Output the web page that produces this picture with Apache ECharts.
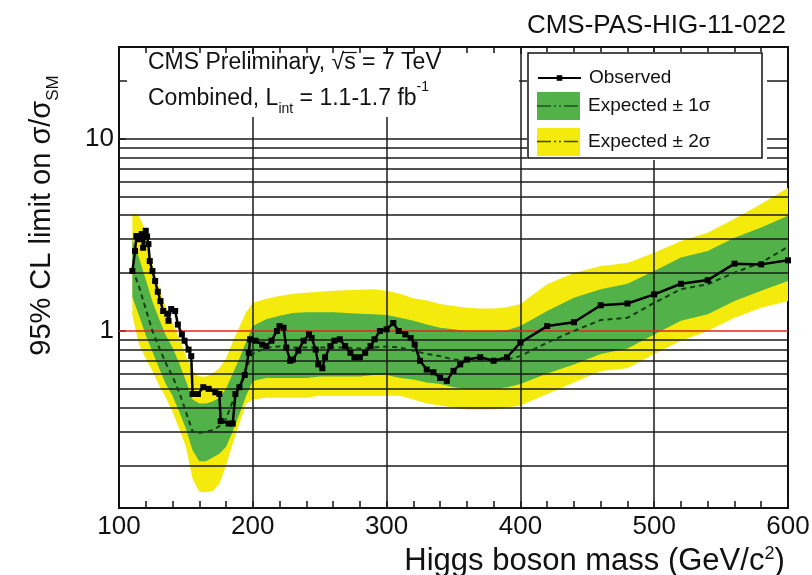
<!DOCTYPE html>
<html><head><meta charset="utf-8">
<script src="https://cdn.jsdelivr.net/npm/echarts@6/dist/echarts.min.js"></script>
<style>html,body{margin:0;padding:0;background:#fff}#c{width:812px;height:575px}</style>
</head><body><div id="c"></div>
<script>
// ---- data ----
const obsMass = [110,112,113,115,117,118,120,121,122,123,125,127,129,131,133,136,137,139,142,144,147,149,152,154,155,159,163,167,172,175,176,182,185,187,190,194,197,198,202,207,210,214,218,220,223,225,228,230,234,238,242,244,247,249,252,254,258,261,265,269,273,276,280,284,288,291,295,300,305,309,314,318,321,325,330,335,340,345,350,355,360,370,380,390,400,420,440,460,480,500,520,540,560,580,600];
const obsLimit = [2.05,2.61,3.12,3.0,3.19,2.71,3.32,3.1,2.83,2.31,2.05,1.82,1.6,1.43,1.27,1.23,1.13,1.30,1.27,1.08,0.96,0.89,0.80,0.74,0.47,0.47,0.51,0.50,0.48,0.47,0.34,0.33,0.33,0.47,0.51,0.59,0.77,0.905,0.89,0.85,0.835,0.89,1.0,1.06,1.04,0.82,0.70,0.71,0.79,0.89,0.96,0.92,0.80,0.67,0.64,0.73,0.835,0.89,0.905,0.835,0.77,0.73,0.73,0.77,0.835,0.905,1.0,1.02,1.10,1.0,0.96,0.92,0.85,0.70,0.63,0.61,0.57,0.55,0.62,0.67,0.71,0.73,0.70,0.73,0.87,1.06,1.11,1.36,1.39,1.55,1.76,1.84,2.24,2.22,2.33];

const bandMass = [110,115,120,125,130,135,140,145,150,155,160,165,170,175,180,185,190,195,200,210,220,230,240,250,260,270,280,290,300,310,320,330,340,350,360,370,380,390,400,420,440,460,480,500,520,540,560,580,600];
const expMedian = [2.1,1.7,1.3,1.0,0.82,0.68,0.58,0.48,0.38,0.30,0.295,0.30,0.305,0.32,0.35,0.43,0.51,0.64,0.76,
  0.82,0.83,0.82,0.82,0.82,0.82,0.82,0.81,0.82,0.83,0.82,0.79,0.76,0.74,0.71,0.70,0.70,0.70,0.71,0.74,
  0.87,1.0,1.14,1.17,1.40,1.65,1.75,2.01,2.27,2.74];
const exp1Lo = [1.5,1.2,0.95,0.78,0.64,0.53,0.46,0.38,0.31,0.24,0.21,0.21,0.22,0.23,0.25,0.30,0.37,0.46,0.55,
  0.57,0.57,0.57,0.57,0.58,0.58,0.58,0.58,0.59,0.59,0.57,0.56,0.54,0.53,0.51,0.50,0.50,0.50,0.51,0.53,
  0.60,0.67,0.76,0.81,0.96,1.13,1.22,1.43,1.62,1.82];
const exp1Hi = [3.0,2.4,1.85,1.42,1.15,0.95,0.82,0.68,0.55,0.44,0.42,0.42,0.43,0.45,0.50,0.60,0.72,0.88,1.06,
  1.15,1.20,1.24,1.25,1.25,1.25,1.24,1.23,1.22,1.21,1.17,1.13,1.08,1.04,1.02,1.00,1.00,1.00,1.01,1.06,
  1.27,1.49,1.65,1.76,2.05,2.41,2.61,3.05,3.45,3.97];
const exp2Lo = [1.2,0.85,0.72,0.62,0.52,0.45,0.38,0.31,0.25,0.17,0.146,0.145,0.147,0.16,0.20,0.26,0.33,0.42,0.44,
  0.45,0.45,0.45,0.45,0.46,0.46,0.46,0.46,0.46,0.46,0.46,0.44,0.42,0.41,0.40,0.39,0.39,0.39,0.40,0.41,
  0.47,0.54,0.62,0.64,0.76,0.89,1.0,1.17,1.32,1.43];
const exp2Hi = [4.1,3.95,3.3,2.2,1.68,1.33,1.10,0.92,0.74,0.62,0.58,0.58,0.60,0.64,0.72,0.88,1.05,1.25,1.40,
  1.47,1.52,1.56,1.58,1.60,1.62,1.63,1.64,1.65,1.62,1.56,1.48,1.44,1.38,1.35,1.32,1.31,1.31,1.33,1.38,
  1.75,2.0,2.18,2.26,2.55,2.94,3.24,3.83,4.58,5.56];

const xRange = [100, 600];
const yRange = [0.12, 30];
const xGridValues = [200, 300, 400, 500];
const yGridValues = [0.2,0.3,0.4,0.5,0.6,0.7,0.8,0.9,2,3,4,5,6,7,8,9,10,20];
const smLine = 1;

const titleText = 'CMS-PAS-HIG-11-022';
const infoLine1 = 'CMS Preliminary, √s = 7 TeV';
const infoLine2 = 'Combined, L{sub|int} = 1.1-1.7 fb{sup|-1}';
const legendNames = ['Observed', 'Expected ± 1σ', 'Expected ± 2σ'];

// ---- chart ----
const FONT = '"Liberation Sans", Arial, Helvetica, sans-serif';
const chart = echarts.init(document.getElementById('c'), null, {renderer: 'canvas'});

function bandSeries(name, lo, hi, color, z) {
  return {
    name: name, type: 'custom', z: z, silent: true,
    xAxisIndex: 0, yAxisIndex: 0,
    itemStyle: {color: color},
    data: bandMass.map((m, i) => [m, lo[i], hi[i]]),
    encode: {x: 0, y: [1, 2]},
    renderItem: function (params, api) {
      if (params.dataIndex !== 0) return null;
      const pts = [];
      for (let i = 0; i < bandMass.length; i++) pts.push(api.coord([bandMass[i], hi[i]]));
      for (let i = bandMass.length - 1; i >= 0; i--) pts.push(api.coord([bandMass[i], lo[i]]));
      return {type: 'polygon', shape: {points: pts}, style: {fill: color, stroke: null}};
    }
  };
}

function isDecade(v) {
  const l = Math.log10(v);
  return Math.abs(l - Math.round(l)) < 1e-6;
}

// overline position for sqrt(s)
const mctx = document.createElement('canvas').getContext('2d');
mctx.font = '23px ' + FONT;
const preW = mctx.measureText('CMS Preliminary, √').width;
const sW = mctx.measureText('s').width;
const infoX = 148;

const option = {
  animation: false,
  backgroundColor: '#ffffff',
  title: {
    text: titleText, right: 21, top: 8,
    textStyle: {fontFamily: FONT, fontSize: 26, fontWeight: 'normal', color: '#111'}
  },
  grid: {left: 119, top: 47, width: 669, height: 461, containLabel: false, outerBoundsMode: 'none'},
  legend: [
    {
      data: [legendNames[0]], left: 537, top: 68.5, padding: 0, z: 10,
      itemWidth: 43, itemHeight: 7, selectedMode: false,
      textStyle: {fontFamily: FONT, fontSize: 19, color: '#111', padding: [0, 0, 0, 3]}
    },
    {
      data: [legendNames[1], legendNames[2]], orient: 'vertical', left: 537, top: 92, padding: 0, z: 10,
      itemWidth: 43, itemHeight: 28, itemGap: 8, icon: 'rect', selectedMode: false,
      textStyle: {fontFamily: FONT, fontSize: 19, color: '#111', padding: [0, 0, 0, 3]}
    }
  ],
  xAxis: [
    {
      type: 'value', position: 'bottom', min: xRange[0], max: xRange[1], interval: 100,
      name: 'Higgs boson mass (GeV/c{sup|2})', nameLocation: 'middle', nameGap: 27,
      nameTextStyle: {fontFamily: FONT, fontSize: 31, color: '#111', padding: [0, 0, 0, 282],
        rich: {sup: {fontFamily: FONT, fontSize: 18, color: '#111', verticalAlign: 'top', lineHeight: 34}}},
      axisLine: {show: true, onZero: false, lineStyle: {color: '#111', width: 2}},
      axisTick: {show: true, inside: true, length: 7, lineStyle: {color: '#111', width: 1.5}},
      minorTick: {show: true, splitNumber: 5, length: 7, lineStyle: {color: '#111', width: 1.5}},
      axisLabel: {fontFamily: FONT, fontSize: 26, color: '#111', margin: 6},
      splitLine: {show: false}
    },
    {
      type: 'value', position: 'top', min: xRange[0], max: xRange[1], interval: 100,
      axisLine: {show: true, onZero: false, lineStyle: {color: '#111', width: 2}},
      axisTick: {show: true, inside: true, length: 7, lineStyle: {color: '#111', width: 1.5}},
      minorTick: {show: true, splitNumber: 5, length: 6, lineStyle: {color: '#111', width: 1.5}},
      axisLabel: {show: false}, splitLine: {show: false}
    }
  ],
  yAxis: [
    {
      type: 'log', logBase: 10, position: 'left', min: yRange[0], max: yRange[1],
      name: '95% CL limit on σ/σ{sub|SM}', nameLocation: 'middle', nameRotate: 90, nameGap: 57,
      nameTextStyle: {fontFamily: FONT, fontSize: 29, color: '#111', padding: [0, 0, 0, 124],
        rich: {sub: {fontFamily: FONT, fontSize: 17, color: '#111', verticalAlign: 'bottom', lineHeight: 40}}},
      axisLine: {show: true, onZero: false, lineStyle: {color: '#111', width: 2}},
      axisTick: {show: true, inside: true, length: 7, lineStyle: {color: '#111', width: 1.5}},
      axisLabel: {fontFamily: FONT, fontSize: 26, color: '#111', margin: 5,
        formatter: v => (isDecade(v) && v >= 1 && v <= 10) ? String(Math.round(v)) : ''},
      splitLine: {show: false}
    },
    {
      type: 'log', logBase: 10, position: 'right', min: yRange[0], max: yRange[1],
      axisLine: {show: true, onZero: false, lineStyle: {color: '#111', width: 2}},
      axisTick: {show: false}, axisLabel: {show: false}, splitLine: {show: false}
    }
  ],
  series: [
    bandSeries(legendNames[2], exp2Lo, exp2Hi, '#f4ea0c', 1),
    bandSeries(legendNames[1], exp1Lo, exp1Hi, '#52b148', 2),
    {
      name: 'Expected', type: 'line', z: 6, xAxisIndex: 0, yAxisIndex: 0,
      data: bandMass.map((m, i) => [m, expMedian[i]]),
      showSymbol: false, symbol: 'none', silent: true,
      lineStyle: {color: '#173d17', width: 2, type: [5, 4]},
      markLine: {
        silent: true, symbol: ['none', 'none'], label: {show: false}, animation: false,
        lineStyle: {color: '#1a1a1a', width: 1.5, type: 'solid'},
        emphasis: {disabled: true},
        data: [
          ...yGridValues.map(v => ({yAxis: v})),
          ...xGridValues.map(v => ({xAxis: v})),
          {yAxis: smLine, lineStyle: {color: '#e3261f', width: 1.5, type: 'solid'}}
        ]
      }
    },
    {
      name: legendNames[0], type: 'line', z: 7, xAxisIndex: 0, yAxisIndex: 0,
      data: obsMass.map((m, i) => [m, obsLimit[i]]),
      symbol: 'rect', symbolSize: 6, showSymbol: true, silent: true,
      itemStyle: {color: '#000'},
      lineStyle: {color: '#000', width: 2.5}
    }
  ],
  graphic: [
    {type: 'rect', z: 8, silent: true, shape: {x: 127, y: 54, width: 392, height: 63}, style: {fill: '#fff'}},
    {type: 'rect', z: 8, silent: true, shape: {x: 527, y: 52, width: 240, height: 108}, style: {fill: '#fff'}},
    {type: 'rect', z: 9, silent: true, shape: {x: 528, y: 53, width: 234, height: 105},
      style: {fill: 'none', stroke: '#111', lineWidth: 1.5}},
    {type: 'line', z: 11, silent: true, shape: {x1: 537, y1: 106, x2: 580, y2: 106},
      style: {stroke: '#1b521b', lineWidth: 1.5, lineDash: [14, 3, 2, 3, 2, 3]}},
    {type: 'line', z: 11, silent: true, shape: {x1: 537, y1: 141.5, x2: 580, y2: 141.5},
      style: {stroke: '#4a4400', lineWidth: 1.5, lineDash: [14, 3, 2, 3, 2, 3]}},
    {type: 'text', z: 11, silent: true, x: infoX, y: 62.5,
      style: {text: infoLine1, font: '23px ' + FONT, fill: '#111', verticalAlign: 'middle', align: 'left'}},
    {type: 'line', z: 11, silent: true,
      shape: {x1: infoX + preW - 2, y1: 52.5, x2: infoX + preW + sW + 1, y2: 52.5},
      style: {stroke: '#111', lineWidth: 1.2}},
    {type: 'text', z: 11, silent: true, x: infoX, y: 98.5,
      style: {text: infoLine2, font: '23px ' + FONT, fill: '#111', verticalAlign: 'middle', align: 'left',
        rich: {
          sub: {fontSize: 14, fontFamily: FONT, fill: '#111', verticalAlign: 'bottom', lineHeight: 36},
          sup: {fontSize: 14, fontFamily: FONT, fill: '#111', verticalAlign: 'top', lineHeight: 32}
        }}}
  ]
};
chart.setOption(option);
</script>
</body></html>
